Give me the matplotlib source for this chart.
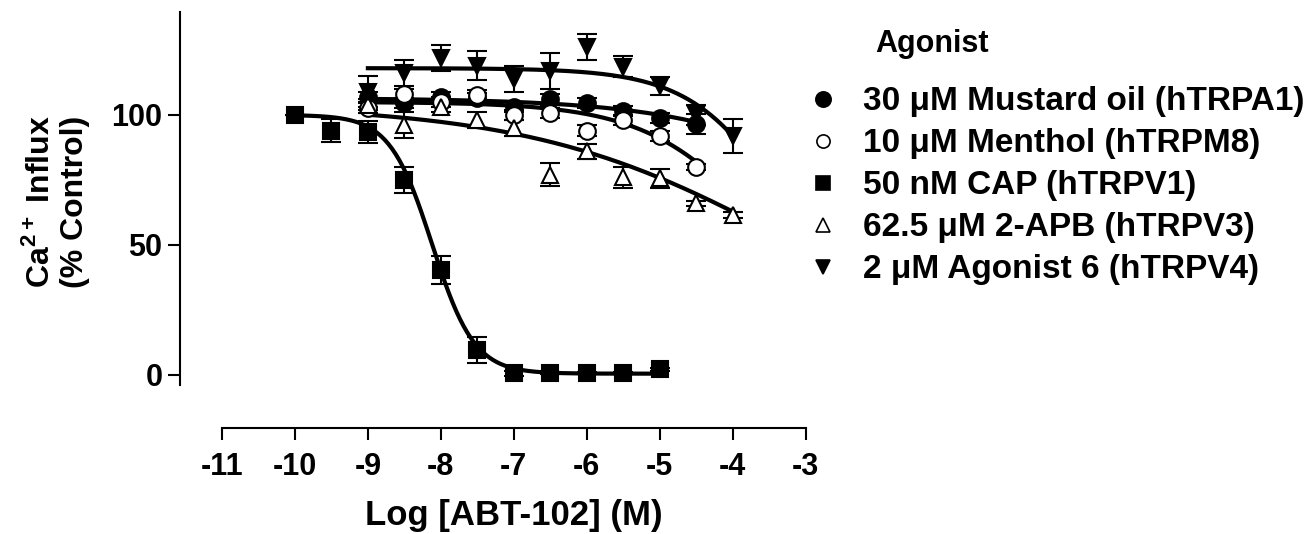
import matplotlib
matplotlib.use("Agg")
import matplotlib.pyplot as plt
from matplotlib.lines import Line2D
import numpy as np

plt.rcParams['font.family'] = ['Liberation Sans', 'DejaVu Sans']
plt.rcParams['font.weight'] = 'bold'
plt.rcParams['axes.unicode_minus'] = False
plt.rcParams['mathtext.fontset'] = 'custom'
plt.rcParams['mathtext.rm'] = 'Liberation Sans:bold'
plt.rcParams['mathtext.bf'] = 'Liberation Sans:bold'

# log concentrations
x_cap = [-10, -9.5, -9, -8.5, -8, -7.5, -7, -6.5, -6, -5.5, -5]
x_short = [-9, -8.5, -8, -7.5, -7, -6.5, -6, -5.5, -5, -4.5]
x_long = [-9, -8.5, -8, -7.5, -7, -6.5, -6, -5.5, -5, -4.5, -4]

# % control values and errors
trpa1 = [107, 104.6, 107, 106.5, 103, 106, 104.6, 101.5, 98.8, 96.5]
trpa1_err = [2, 2, 2, 2, 2, 2, 2, 2, 2, 4]
trpm8 = [102.7, 108, 105, 107.7, 100, 100.8, 94, 98, 92, 80]
trpm8_err = [2, 2, 2, 2, 2, 2, 2, 2, 2, 1]
trpv1 = [100, 94, 93.5, 75, 40.4, 9.6, 0.7, 0.7, 0.7, 0.7, 2.2]
trpv1_err = [0, 4.5, 4.2, 5, 5.5, 5, 1, 0.5, 0.5, 0.5, 0.5]
trpv3 = [104, 96, 103, 98, 95, 77, 86, 76, 75.6, 66, 61.5]
trpv3_err = [2, 5, 2, 3, 3, 4.5, 3, 4, 3.5, 1, 1]
trpv4 = [109, 116, 122, 119, 114, 117, 126, 118.5, 111, 100, 92]
trpv4_err = [6, 5, 5, 5.5, 5, 7, 5, 4, 3.5, 4, 6.5]

labels = ["30 \u03bcM Mustard oil (hTRPA1)", "10 \u03bcM Menthol (hTRPM8)",
          "50 nM CAP (hTRPV1)", "62.5 \u03bcM 2-APB (hTRPV3)",
          "2 \u03bcM Agonist 6 (hTRPV4)"]

# fitted curve parameters (top, bottom, logIC50, hill)
fits = [(106.5, 0, -1.42, 0.332), (105, 0, -3.44, 0.52), (100, 0.5, -8.12, 1.5),
        (104, 0, -3.25, 0.245), (118, 0, -3.16, 0.652)]

def hill(x, top, bottom, c, h):
    return bottom + (top - bottom) / (1 + 10 ** ((x - c) * h))

W, H = 1316, 534
fig = plt.figure(figsize=(W / 100, H / 100), dpi=100)
ax = fig.add_axes([180 / W, 1 - 428 / H, 633 / W, 416 / H])

series = [(x_short, trpa1, trpa1_err, 'o', 'black', 11),
          (x_short, trpm8, trpm8_err, 'o', 'white', 9.5),
          (x_cap, trpv1, trpv1_err, 's', 'black', 10.5),
          (x_long, trpv3, trpv3_err, '^', 'white', 10),
          (x_long, trpv4, trpv4_err, 'v', 'black', 10)]

for (xs, ys, es, m, fc, lms), p in zip(series, fits):
    xx = np.linspace(xs[0], xs[-1], 200)
    ax.plot(xx, hill(xx, *p), color='black', lw=3, zorder=2)
    ax.errorbar(xs, ys, yerr=es, fmt=m, color='black', mfc=fc, mec='black',
                mew=1.5, ms=12, ecolor='black', elinewidth=1.5, capsize=7,
                capthick=1.5, zorder=3)

ax.set_xlim(-11.575, -2.9)
ax.set_ylim(-20.4, 139.6)
ax.spines['top'].set_visible(False)
ax.spines['right'].set_visible(False)
ax.spines['left'].set_bounds(-3.8, 139.6)
ax.spines['bottom'].set_bounds(-11, -3)
ax.spines['left'].set_linewidth(1.5)
ax.spines['bottom'].set_linewidth(1.5)
ax.set_xticks(np.arange(-11, -2, 1))
ax.set_yticks([0, 50, 100])
ax.tick_params(length=8.6, width=1.5, labelsize=22)
ax.tick_params(axis='x', pad=9)
ax.tick_params(axis='y', pad=4)

fig.text(57 / W, 1 - 202 / H, "Ca$^{\\mathrm{2+}}$ Influx\n(% Control)",
         rotation=90, ha='center', va='center', fontsize=23, multialignment='center')
fig.text(514 / W, 1 - 525 / H, "Log [ABT-102] (M)", ha='center',
         va='baseline', fontsize=25)

# legend
fig.text(875 / W, 1 - 52 / H, "Agonist", ha='left', va='baseline', fontsize=22)
for i, ((xs, ys, es, m, fc, lms), lab) in enumerate(zip(series, labels)):
    base = 110 + 42 * i
    fig.add_artist(Line2D([823 / W], [1 - (base - 11) / H], transform=fig.transFigure,
                          marker=m, ls='none', mfc=fc, mec='black', mew=1.2, ms=lms))
    fig.text(863 / W, 1 - base / H, lab, ha='left', va='baseline', fontsize=24)

fig.savefig("out.png", dpi=100)
